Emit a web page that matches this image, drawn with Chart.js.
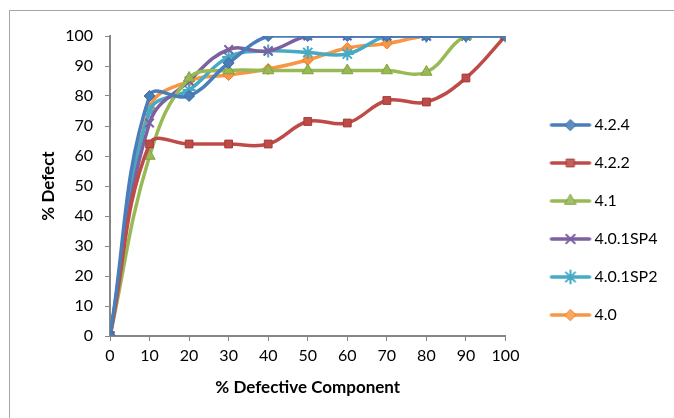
<!DOCTYPE html>
<html>
<head>
<meta charset="utf-8">
<script src="https://cdn.jsdelivr.net/npm/chart.js@4/dist/chart.umd.min.js"></script>
<style>
html,body{margin:0;padding:0;background:#fff;overflow:hidden;}
#wrap{position:absolute;left:0;top:0;width:674px;height:418px;}
#frame{position:absolute;left:9px;top:10px;width:800px;height:600px;border:1px solid #a6a6a6;}
</style>
</head>
<body>
<div id="frame"></div>
<div id="wrap"><canvas id="c" width="674" height="418"></canvas></div>
<script>
const xValues = [0, 10, 20, 30, 40, 50, 60, 70, 80, 90, 100];
const seriesNames = ['4.2.4', '4.2.2', '4.1', '4.0.1SP4', '4.0.1SP2', '4.0'];
const s424 = [0, 80, 80, 91, 100, 100, 100, 100, 100, 100, 100];
const s422 = [0, 64, 64, 64, 64, 71.5, 71, 78.5, 78, 86, 100];
const s41 = [0, 60, 86, 88.5, 88.5, 88.5, 88.5, 88.5, 88, 100, 100];
const s401sp4 = [0, 71, 85, 95.5, 95, 100, 100, 100, 100, 100, 100];
const s401sp2 = [0, 75, 82, 93, 95, 94.5, 94, 100, 100, 100, 100];
const s40 = [0, 76, 85, 87, 89, 92, 96, 97.5, 100, 100, 100];
const xTicks = [0, 10, 20, 30, 40, 50, 60, 70, 80, 90, 100];

const colors = ['#4A7EBB', '#BE4B48', '#98B954', '#7D60A0', '#46AAC5', '#F79646'];
const styles = ['rectRot', 'rect', 'triangle', 'crossRot', 'star', 'rectRot'];
const radii = [5.5, 5.5, 6.5, 6, 6.5, 5.5];
const allSeries = [s424, s422, s41, s401sp4, s401sp2, s40];

function markerBorder(i) {
  return (i === 3 || i === 4) ? colors[i] : Chart.helpers.color(colors[i]).darken(0.15).rgbString();
}

function legendIcon(i) {
  const cv = document.createElement('canvas');
  cv.width = 71; cv.height = 16;
  const ctx = cv.getContext('2d');
  ctx.strokeStyle = colors[i];
  ctx.lineWidth = 3.5;
  ctx.lineCap = 'round';
  ctx.beginPath(); ctx.moveTo(30, 8); ctx.lineTo(68, 8); ctx.stroke();
  ctx.fillStyle = Chart.helpers.color(colors[i]).lighten(0.1).rgbString();
  ctx.strokeStyle = markerBorder(i);
  ctx.lineWidth = (i === 3 || i === 4) ? 2 : 1;
  Chart.helpers.drawPoint(ctx, {pointStyle: styles[i], rotation: 0, radius: radii[i], borderWidth: ctx.lineWidth}, 49, 8);
  return cv;
}

const datasets = allSeries.map((vals, i) => ({
  label: seriesNames[i],
  data: vals.map((v, k) => ({x: xValues[k], y: v})),
  borderColor: colors[i],
  backgroundColor: colors[i],
  pointStyle: styles[i],
  pointRadius: radii[i],
  pointBorderColor: markerBorder(i),
  pointBackgroundColor: colors[i],
  pointBorderWidth: (i === 3 || i === 4) ? 2 : 1,
  borderWidth: 3.5,
  tension: 0.4,
  fill: false
}));

Chart.defaults.font.family = 'Lato, "Liberation Sans", sans-serif';
Chart.defaults.color = '#000';

new Chart(document.getElementById('c'), {
  type: 'line',
  data: {datasets},
  options: {
    responsive: false,
    animation: false,
    layout: {padding: {left: 30, top: 36, right: 10, bottom: 14}},
    plugins: {
      tooltip: {enabled: false},
      legend: {
        position: 'right',
        align: 'center',
        labels: {
          usePointStyle: true,
          pointStyleWidth: 59,
          boxHeight: 16,
          padding: 22,
          font: {size: 16},
          color: '#000',
          generateLabels: (chart) => chart.data.datasets.map((ds, i) => ({
            text: ds.label,
            pointStyle: legendIcon(i),
            fillStyle: colors[i],
            strokeStyle: colors[i],
            lineWidth: 0,
            hidden: false,
            datasetIndex: i
          }))
        }
      }
    },
    scales: {
      x: {
        type: 'linear',
        min: 0, max: 100,
        afterBuildTicks: (axis) => { axis.ticks = xTicks.map(v => ({value: v})); },
        afterFit: (axis) => { axis.height = 68; },
        grid: {drawOnChartArea: false, drawTicks: true, tickLength: 5, color: '#868686'},
        border: {display: true, color: '#868686', width: 2},
        ticks: {font: {size: 16}, padding: 5, maxRotation: 0},
        title: {display: true, text: '% Defective Component', font: {size: 17, weight: 'bold'}, padding: {top: 0, bottom: 6}}
      },
      y: {
        min: 0, max: 100,
        afterFit: (axis) => { axis.width = 80; },
        ticks: {stepSize: 10, font: {size: 16}, padding: 12},
        grid: {drawOnChartArea: false, drawTicks: true, tickLength: 5, color: '#868686'},
        border: {display: true, color: '#868686', width: 2},
        title: {display: true, text: '% Defect', font: {size: 17, weight: 'bold'}, padding: {top: 8, bottom: 0}}
      }
    }
  }
});
</script>
</body>
</html>
